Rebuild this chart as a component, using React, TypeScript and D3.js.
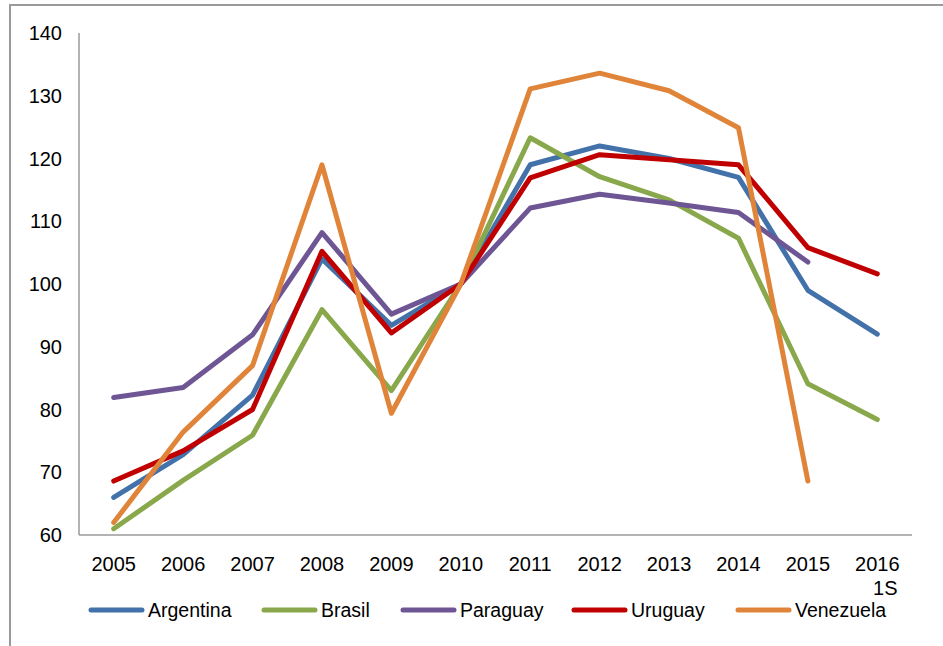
import React, { useEffect, useRef } from 'react';
import * as d3 from 'd3';

const years = ['2005', '2006', '2007', '2008', '2009', '2010', '2011', '2012', '2013', '2014', '2015', '2016\n1S'];
const yTicks = [60, 70, 80, 90, 100, 110, 120, 130, 140];

const argentina = [66, 72.8, 82.3, 104, 93.4, 100, 119, 122, 120, 117, 99, 92];
const brasil = [61, 68.7, 75.9, 95.9, 83, 100, 123.3, 117.1, 113.4, 107.3, 84.1, 78.4];
const paraguay = [81.9, 83.5, 91.9, 108.2, 95.2, 100, 112.1, 114.3, 112.9, 111.4, 103.5, null];
const uruguay = [68.6, 73.4, 80, 105.2, 92.2, 100, 116.9, 120.6, 119.8, 119, 105.8, 101.6];
const venezuela = [62, 76.4, 87, 119, 79.4, 100, 131.1, 133.6, 130.8, 124.9, 68.6, null];

const seriesNames = ['Argentina', 'Brasil', 'Paraguay', 'Uruguay', 'Venezuela'];
const seriesValues = [argentina, brasil, paraguay, uruguay, venezuela];
const colors = ['#4371a9', '#89a84b', '#6e5594', '#c00000', '#e0843a'];

export default function App() {
	const ref = useRef<SVGSVGElement>(null);
	useEffect(() => {
		const svg = d3.select(ref.current);
		svg.selectAll('*').remove();
		const font = '"Liberation Sans", Arial, sans-serif';
		const left = 79, right = 912, top = 33, bottom = 535;

		// outer frame
		svg.append('rect')
			.attr('x', 10).attr('y', 5).attr('width', 1000).attr('height', 1000)
			.attr('fill', 'none').attr('stroke', '#9a9a9a').attr('stroke-width', 2);

		const x = d3.scaleBand().domain(years).range([left, right]);
		const y = d3.scaleLinear().domain([60, 140]).range([bottom, top]);

		// axes
		svg.append('line').attr('x1', left).attr('x2', left).attr('y1', top).attr('y2', bottom)
			.attr('stroke', '#9a9a9a').attr('stroke-width', 1.5);
		svg.append('line').attr('x1', left).attr('x2', right).attr('y1', bottom).attr('y2', bottom)
			.attr('stroke', '#9a9a9a').attr('stroke-width', 1.5);

		svg.selectAll('text.ytick')
			.data(yTicks)
			.enter()
			.append('text')
			.attr('class', 'ytick')
			.attr('x', 62)
			.attr('y', (d) => y(d) + 7)
			.attr('text-anchor', 'end')
			.attr('font-family', font)
			.attr('font-size', 20)
			.text((d) => d);

		const xl = svg.selectAll('text.xtick')
			.data(years)
			.enter()
			.append('text')
			.attr('class', 'xtick')
			.attr('text-anchor', 'middle')
			.attr('font-family', font)
			.attr('font-size', 20);
		xl.each(function (d) {
			const t = d3.select(this);
			d.split('\n').forEach((part, i) => {
				t.append('tspan')
					.attr('x', x(d)! + x.bandwidth() / 2 + (i > 0 ? 8 : 0))
					.attr('y', 571 + i * 24)
					.text(part);
			});
		});

		const line = d3.line<number | null>()
			.defined((d) => d !== null)
			.x((_, i) => x(years[i])! + x.bandwidth() / 2)
			.y((d) => y(d as number));

		svg.selectAll('path.series')
			.data(seriesValues)
			.enter()
			.append('path')
			.attr('class', 'series')
			.attr('d', (d) => line(d))
			.attr('fill', 'none')
			.attr('stroke', (_, i) => colors[i])
			.attr('stroke-width', 5)
			.attr('stroke-linejoin', 'round')
			.attr('stroke-linecap', 'round');

		// legend
		const legendX = [91, 264, 403, 574, 738];
		const ly = 610;
		const g = svg.selectAll('g.legend')
			.data(seriesNames)
			.enter()
			.append('g')
			.attr('class', 'legend')
			.attr('transform', (_, i) => 'translate(' + legendX[i] + ',' + ly + ')');
		g.append('line')
			.attr('x1', 0).attr('x2', 51).attr('y1', 0).attr('y2', 0)
			.attr('stroke', (_, i) => colors[i])
			.attr('stroke-width', 5)
			.attr('stroke-linecap', 'round');
		g.append('text')
			.attr('x', 57)
			.attr('y', 7)
			.attr('font-family', font)
			.attr('font-size', 19.5)
			.text((d) => d);
	}, []);
	return (
		<svg ref={ref} width={943} height={646} style={{ position: 'absolute', left: 0, top: 0, background: '#fff' }} />
	);
}
